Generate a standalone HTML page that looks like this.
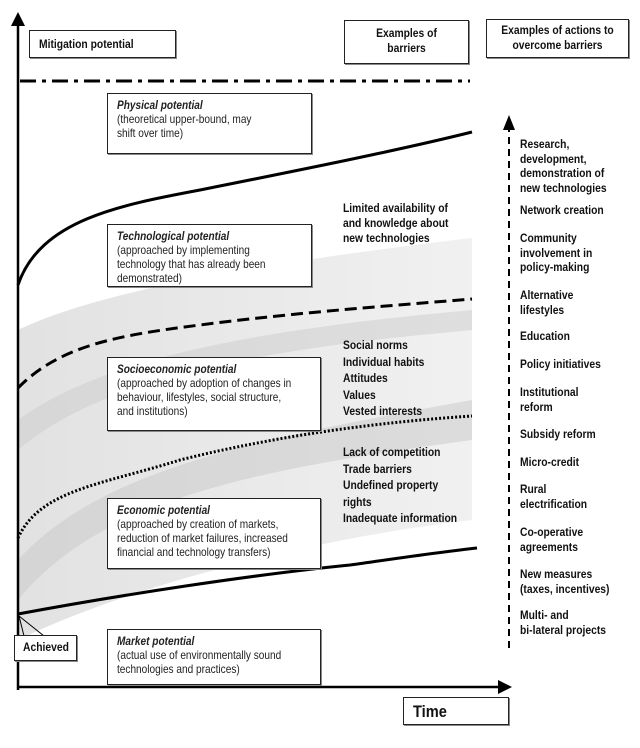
<!DOCTYPE html>
<html><head><meta charset="utf-8"><style>
html,body{margin:0;padding:0;background:#fff;}
body{width:640px;height:748px;position:relative;overflow:hidden;font-family:"Liberation Sans",sans-serif;}
.b{position:absolute;border:1px solid #222;background:#fff;box-shadow:1px 1px 0 #888;box-sizing:border-box;}
.t{position:absolute;font-weight:bold;font-size:12px;line-height:15px;color:#111;white-space:nowrap;transform:scaleX(.86);transform-origin:0 0;}
.c{transform-origin:50% 0;}
.d{position:absolute;left:9px;top:4px;font-size:12px;line-height:14px;color:#222;white-space:nowrap;transform:scaleX(.84);transform-origin:0 0;}
.d i{font-weight:bold;}
svg{position:absolute;left:0;top:0;}
</style></head><body>
<svg width="640" height="748">
<defs>
<linearGradient id="g1" x1="0" y1="0" x2="1" y2="0"><stop offset="0" stop-color="#d8d8d8"/><stop offset="1" stop-color="#ececec"/></linearGradient>
</defs>
<path d="M18,330 C80,300 200,270 472,238 L472,520 C300,540 120,590 18,640 Z" fill="url(#g1)" opacity="0.75"/>
<path d="M18,420 C100,360 250,330 472,310 L472,330 C250,350 100,380 18,450 Z" fill="#ccc" opacity="0.5"/>
<path d="M18,560 C100,470 250,440 472,400 L472,440 C250,470 100,500 18,600 Z" fill="#c8c8c8" opacity="0.5"/>
<line x1="18" y1="690" x2="18" y2="22" stroke="#000" stroke-width="2.5"/>
<polygon points="11,26 25,26 18,12" fill="#000"/>
<line x1="17" y1="687" x2="500" y2="687" stroke="#000" stroke-width="2.5"/>
<polygon points="498,680 498,694 512,687" fill="#000"/>
<line x1="20" y1="81" x2="470" y2="81" stroke="#000" stroke-width="3" stroke-dasharray="16,6,4,6"/>
<path d="M18,285 C40,220 120,205 200,190 C300,170 400,150 472,132" fill="none" stroke="#000" stroke-width="3"/>
<path d="M18,388 C60,345 120,335 200,325 C300,312 400,305 472,299" fill="none" stroke="#000" stroke-width="3" stroke-dasharray="12,6"/>
<path d="M18,538 C40,490 100,485 180,460 C280,435 380,422 472,416" fill="none" stroke="#000" stroke-width="3" stroke-dasharray="2,2"/>
<path d="M18,614 C120,595 250,575 350,565 C400,558 440,552 477,548" fill="none" stroke="#000" stroke-width="3"/>
<line x1="509" y1="648" x2="509" y2="126" stroke="#000" stroke-width="2" stroke-dasharray="7,5"/>
<polygon points="503,130 515,130 509,115" fill="#000"/>
</svg>
<div class="b" style="left:29px;top:30px;width:147px;height:28px;"><div class="t" style="left:9px;top:6px;">Mitigation potential</div></div>
<div class="b" style="left:344px;top:20px;width:125px;height:44px;"><div class="t c" style="left:0;right:0;top:5px;text-align:center;">Examples of<br>barriers</div></div>
<div class="b" style="left:486px;top:19px;width:143px;height:39px;"><div class="t c" style="left:-10px;right:-10px;top:3px;text-align:center;">Examples of actions to<br>overcome barriers</div></div>
<div class="b" style="left:107px;top:93px;width:205px;height:61px;"><div class="d"><i>Physical potential</i><br>(theoretical upper-bound, may<br>shift over time)</div></div>
<div class="b" style="left:107px;top:224px;width:205px;height:63px;"><div class="d"><i>Technological potential</i><br>(approached by implementing<br>technology that has already been<br>demonstrated)</div></div>
<div class="b" style="left:107px;top:357px;width:214px;height:74px;"><div class="d"><i>Socioeconomic potential</i><br>(approached by adoption of changes in<br>behaviour, lifestyles, social structure,<br>and institutions)</div></div>
<div class="b" style="left:107px;top:498px;width:214px;height:71px;"><div class="d"><i>Economic potential</i><br>(approached by creation of markets,<br>reduction of market failures, increased<br>financial and technology transfers)</div></div>
<div class="b" style="left:107px;top:629px;width:214px;height:56px;"><div class="d"><i>Market potential</i><br>(actual use of environmentally sound<br>technologies and practices)</div></div>
<svg width="640" height="748"><path d="M19,616 L24,636 M19,616 L44,636" stroke="#000" stroke-width="1"/></svg>
<div class="b" style="left:14px;top:635px;width:63px;height:26px;"><div class="t" style="left:8px;top:4px;">Achieved</div></div>
<div class="b" style="left:403px;top:697px;width:106px;height:28px;"><div class="t" style="left:9px;top:4px;font-size:17px;line-height:20px;">Time</div></div>
<div class="t" style="left:343px;top:201px;">Limited availability of<br>and knowledge about<br>new technologies</div>
<div class="t" style="left:343px;top:337px;line-height:16.5px;">Social norms<br>Individual habits<br>Attitudes<br>Values<br>Vested interests</div>
<div class="t" style="left:343px;top:444px;line-height:16.5px;">Lack of competition<br>Trade barriers<br>Undefined property<br>rights<br>Inadequate information</div>
<div class="t" style="left:520px;top:137px;line-height:14.5px;">Research,<br>development,<br>demonstration of<br>new technologies</div>
<div class="t" style="left:520px;top:203px;">Network creation</div>
<div class="t" style="left:520px;top:231px;line-height:14.5px;">Community<br>involvement in<br>policy-making</div>
<div class="t" style="left:520px;top:288px;line-height:14.5px;">Alternative<br>lifestyles</div>
<div class="t" style="left:520px;top:329px;">Education</div>
<div class="t" style="left:520px;top:357px;">Policy initiatives</div>
<div class="t" style="left:520px;top:385px;line-height:14.5px;">Institutional<br>reform</div>
<div class="t" style="left:520px;top:427px;">Subsidy reform</div>
<div class="t" style="left:520px;top:455px;">Micro-credit</div>
<div class="t" style="left:520px;top:482px;line-height:14.5px;">Rural<br>electrification</div>
<div class="t" style="left:520px;top:525px;line-height:14.5px;">Co-operative<br>agreements</div>
<div class="t" style="left:520px;top:567px;line-height:14.5px;">New measures<br>(taxes, incentives)</div>
<div class="t" style="left:520px;top:608px;line-height:14.5px;">Multi- and<br>bi-lateral projects</div>
</body></html>
